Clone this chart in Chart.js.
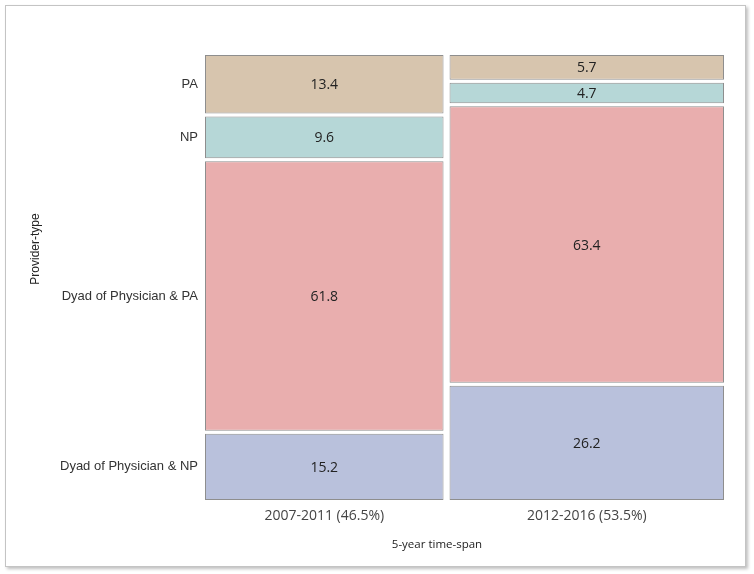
<!DOCTYPE html>
<html>
<head>
<meta charset="utf-8">
<script src="https://cdn.jsdelivr.net/npm/chart.js@4.4.1/dist/chart.umd.min.js"></script>
<style>
  html, body { margin: 0; padding: 0; background: #fff; }
  #wrap { position: relative; width: 754px; height: 574px; }
  #frame { position: absolute; left: 5px; top: 5px; width: 739px; height: 560px;
           border: 1px solid #c4c4c4; box-shadow: 2px 2px 3px rgba(0,0,0,0.25); }
  #mosaic { position: absolute; left: 0; top: 0; }
</style>
</head>
<body>
<div id="wrap">
  <div id="frame"></div>
  <canvas id="mosaic" width="754" height="574"></canvas>
</div>
<script>
// mosaic: column width = share of period, tile height = % within period
const periods = ['2007-2011', '2012-2016'];
const periodShare = [46.5, 53.5];
const providerTypes = ['PA', 'NP', 'Dyad of Physician & PA', 'Dyad of Physician & NP'];
const pct2007 = [13.4, 9.6, 61.8, 15.2];
const pct2012 = [5.7, 4.7, 63.4, 26.2];
const tileColors = ['#d7c5ae', '#b6d7d7', '#e9aeae', '#b9c1dc'];

const GAP_X = 1.17;  // space between the two columns (x units)
const GAP_Y = 0.69;  // space between tiles (y units)

const columns = [pct2007, pct2012];

let xStart = 0;
const centers = [];
const datasets = columns.map((pcts, c) => {
  const center = xStart + periodShare[c] / 2;
  centers.push(center);
  xStart += periodShare[c] + GAP_X;
  let acc = 0;
  const data = pcts.map((p, i) => {
    const lo = acc + i * GAP_Y;
    acc += p;
    return { x: center, y: [lo, lo + p] };
  });
  return {
    label: periods[c],
    data: data,
    backgroundColor: tileColors,
    borderColor: '#8e8e8e',
    borderWidth: 1,
    borderSkipped: false,
    inflateAmount: 0,
    grouped: false
  };
});

// bar width = ruler (distance between centers) * barPercentage
const spacing = centers[1] - centers[0];
datasets.forEach((ds, c) => {
  ds.barPercentage = periodShare[c] / spacing;
  ds.categoryPercentage = 1;
});

const yTicks = datasets[0].data.map(d => (d.y[0] + d.y[1]) / 2);

const tileLabels = {
  id: 'tileLabels',
  afterDatasetsDraw(chart) {
    const ctx = chart.ctx;
    ctx.save();
    ctx.font = '14px "Open Sans"';
    ctx.fillStyle = '#222';
    ctx.textAlign = 'center';
    ctx.textBaseline = 'middle';
    chart.data.datasets.forEach((ds, c) => {
      chart.getDatasetMeta(c).data.forEach((bar, i) => {
        const pt = bar.getCenterPoint();
        ctx.fillText(columns[c][i].toFixed(1), pt.x, pt.y + 1);
      });
    });
    ctx.restore();
  }
};

const axisTitles = {
  id: 'axisTitles',
  afterDraw(chart) {
    const ctx = chart.ctx;
    const a = chart.chartArea;
    ctx.save();
    ctx.fillStyle = '#222';
    ctx.textAlign = 'center';
    ctx.textBaseline = 'middle';
    ctx.font = '11.5px "Open Sans"';
    ctx.fillText('5-year time-span', a.left + 232, a.bottom + 45);
    ctx.translate(36, a.top + 194);
    ctx.rotate(-Math.PI / 2);
    ctx.font = '12px "Liberation Sans"';
    ctx.fillText('Provider-type', 0, 0);
    ctx.restore();
  }
};

new Chart(document.getElementById('mosaic'), {
  type: 'bar',
  data: { datasets: datasets },
  options: {
    responsive: false,
    animation: false,
    layout: { padding: { top: 55, right: 30, left: 0, bottom: 0 } },
    plugins: {
      legend: { display: false }
    },
    scales: {
      x: {
        type: 'linear',
        offset: false,
        min: 0,
        max: 100 + GAP_X,
        grid: { display: false, drawTicks: false },
        border: { display: false },
        afterBuildTicks: axis => { axis.ticks = centers.map(v => ({ value: v })); },
        afterFit: axis => { axis.height = 74; },
        ticks: {
          autoSkip: false,
          maxRotation: 0,
          padding: 8,
          color: '#444',
          font: { family: 'Open Sans', size: 14 },
          callback: (v, i) => periods[i] + ' (' + periodShare[i] + '%)'
        }
      },
      y: {
        type: 'linear',
        reverse: true,
        min: 0,
        max: 100 + 3 * GAP_Y,
        grid: { display: false, drawTicks: false },
        border: { display: false },
        afterBuildTicks: axis => { axis.ticks = yTicks.map(v => ({ value: v })); },
        afterFit: axis => { axis.width = 205; },
        ticks: {
          autoSkip: false,
          padding: 7,
          color: '#333',
          font: { family: 'Liberation Sans', size: 13 },
          callback: (v, i) => providerTypes[i]
        }
      }
    }
  },
  plugins: [tileLabels, axisTitles]
});
</script>
</body>
</html>
